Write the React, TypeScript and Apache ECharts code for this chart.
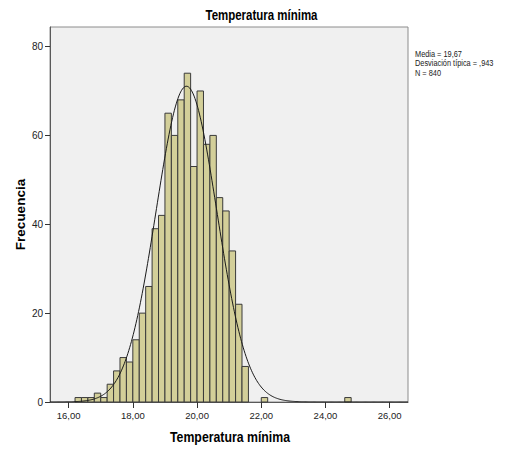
import React, { useEffect, useRef } from "react";
import * as echarts from "echarts";

// Histogram bins (start, end) and frequencies
const binStarts = [16.2, 16.4, 16.6, 16.8, 17.0, 17.2, 17.4, 17.6, 17.8, 18.0, 18.2, 18.4, 18.6, 18.8, 19.0, 19.2, 19.4, 19.6, 19.8, 20.0, 20.2, 20.4, 20.6, 20.8, 21.0, 21.2, 21.4, 22.0, 24.6];
const binEnds = [16.4, 16.6, 16.8, 17.0, 17.2, 17.4, 17.6, 17.8, 18.0, 18.2, 18.4, 18.6, 18.8, 19.0, 19.2, 19.4, 19.6, 19.8, 20.0, 20.2, 20.4, 20.6, 20.8, 21.0, 21.2, 21.4, 21.6, 22.2, 24.8];
const counts = [1, 1, 1, 2, 1, 4, 7, 10, 9, 14, 20, 26, 39, 42, 65, 60, 68, 74, 53, 70, 58, 60, 46, 43, 34, 22, 8, 1, 1];

// Summary statistics shown in the legend (normal curve parameters)
const mean = 19.67;
const stdDev = 0.943;
const nTotal = 840;
const binWidth = 0.2;

const xTicks = [16, 18, 20, 22, 24, 26];
const yTicks = [0, 20, 40, 60, 80];
const legendLines = ["Media = 19,67", "Desviación típica = ,943", "N = 840"];

const titleText = "Temperatura mínima";
const xName = "Temperatura mínima";
const yName = "Frecuencia";

const X_MIN = 15.42;
const X_MAX = 26.57;
const Y_MAX = 84.4;

const SANS = "'Liberation Sans', Arial, sans-serif";
const SQUASH = 0.82;

export default function App() {
  const ref = useRef<HTMLDivElement>(null);

  useEffect(() => {
    if (!ref.current) return;
    const chart = echarts.init(ref.current, null, { renderer: "svg" });

    const histData = binStarts.map((s, i) => [s, binEnds[i], counts[i]]);

    // Fitted normal curve (scaled by N * bin width)
    const curve: number[][] = [];
    const steps = 400;
    for (let i = 0; i <= steps; i++) {
      const x = X_MIN + ((X_MAX - X_MIN) * i) / steps;
      const z = (x - mean) / stdDev;
      const y = (nTotal * binWidth) / (stdDev * Math.sqrt(2 * Math.PI)) * Math.exp(-0.5 * z * z);
      curve.push([x, y]);
    }

    const fmt = (v: number) => v.toFixed(2).replace(".", ",");

    chart.setOption({
      animation: false,
      grid: {
        left: 50,
        top: 27,
        right: 115,
        bottom: 48,
        show: true,
        backgroundColor: "#f0f0f0",
        borderColor: "#8c8c8c",
        borderWidth: 1,
      },
      xAxis: {
        type: "value",
        min: X_MIN,
        max: X_MAX,
        splitLine: { show: false },
        axisLine: { show: true, lineStyle: { color: "#5a5a5a", width: 1 } },
        axisTick: { show: true, customValues: xTicks, length: 6, lineStyle: { color: "#333" } },
        axisLabel: {
          customValues: xTicks,
          formatter: (v: number) => fmt(v),
          fontFamily: SANS,
          fontSize: 9.5,
          color: "#222",
          margin: 8,
        },
      },
      yAxis: {
        type: "value",
        min: 0,
        max: Y_MAX,
        splitLine: { show: false },
        axisLine: { show: true, lineStyle: { color: "#5a5a5a", width: 1 } },
        axisTick: { show: true, customValues: yTicks, length: 5, lineStyle: { color: "#333" } },
        axisLabel: {
          customValues: yTicks,
          fontFamily: SANS,
          fontSize: 10,
          color: "#222",
          margin: 7,
        },
      },
      graphic: [
        {
          type: "text",
          x: 261.5,
          y: 15,
          scaleX: SQUASH,
          style: {
            text: titleText,
            fontFamily: SANS,
            fontSize: 14,
            fontWeight: "bold",
            fill: "#000",
            align: "center",
            verticalAlign: "middle",
          },
        },
        {
          type: "text",
          x: 230,
          y: 437,
          scaleX: SQUASH,
          style: {
            text: xName,
            fontFamily: SANS,
            fontSize: 15,
            fontWeight: "bold",
            fill: "#000",
            align: "center",
            verticalAlign: "middle",
          },
        },
        {
          type: "text",
          x: 20,
          y: 214.5,
          rotation: Math.PI / 2,
          style: {
            text: yName,
            fontFamily: SANS,
            fontSize: 13.5,
            fontWeight: "bold",
            fill: "#000",
            align: "center",
            verticalAlign: "middle",
          },
        },
        ...legendLines.map((t, i) => ({
          type: "text",
          x: 415,
          y: 54 + i * 9.7,
          scaleX: SQUASH,
          style: {
            text: t,
            fontFamily: SANS,
            fontSize: 9,
            fill: "#222",
            align: "left",
            verticalAlign: "middle",
          },
        })),
      ],
      series: [
        {
          type: "custom",
          data: histData,
          encode: { x: [0, 1], y: 2 },
          renderItem: (_params: any, api: any) => {
            const x0 = api.value(0);
            const x1 = api.value(1);
            const c = api.value(2);
            const p0 = api.coord([x0, c]);
            const p1 = api.coord([x1, 0]);
            return {
              type: "rect",
              shape: { x: p0[0], y: p0[1], width: p1[0] - p0[0], height: p1[1] - p0[1] },
              style: { fill: "#d3cf99", stroke: "#3a3a3a", lineWidth: 1 },
            };
          },
          z: 2,
        },
        {
          type: "line",
          data: curve,
          showSymbol: false,
          symbol: "none",
          lineStyle: { color: "#1a1a1a", width: 1 },
          z: 3,
        },
      ],
    });

    return () => chart.dispose();
  }, []);

  return (
    <div
      ref={ref}
      style={{ position: "absolute", left: 0, top: 0, width: 523, height: 450 }}
    />
  );
}
